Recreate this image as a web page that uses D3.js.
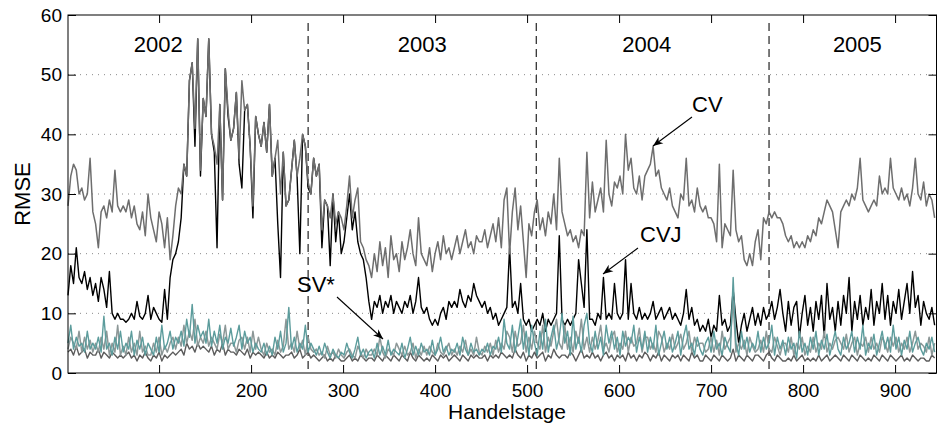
<!DOCTYPE html>
<html>
<head>
<meta charset="utf-8">
<script src="https://cdn.jsdelivr.net/npm/d3@7"></script>
<style>
  body { margin: 0; background: #fff; }
  text { font-family: "Liberation Sans", Arial, sans-serif; }
</style>
</head>
<body>
<svg id="chart" width="937" height="425"></svg>
<script>
"use strict";

// every third trading day, starting at day 1
var dayStep = 3;

var yearBreaks = [262, 510, 763];
var yearLabels = [ { t: "2002", d: 99 }, { t: "2003", d: 386 }, { t: "2004", d: 630 }, { t: "2005", d: 859 } ];
var xTicks = [100, 200, 300, 400, 500, 600, 700, 800, 900];
var yTicks = [0, 10, 20, 30, 40, 50, 60];

// CV (grey)
var cv = [
  28,33,35,34,30,31,29,30,36,27,
  25,21,27,28,26,29,27,34,28,27,
  28,27,29,26,28,25,24,27,23,30,
  26,24,22,27,25,21,26,19,23,28,
  31,30,35,33,49,52,41,56,34,46,
  43,56,40,38,35,45,29,51,44,39,
  41,47,36,49,44,45,38,28,43,40,
  38,42,37,45,33,36,39,30,37,28,
  29,34,39,33,36,40,38,32,30,36,
  33,35,24,29,28,26,30,25,27,26,
  24,28,33,26,29,31,22,21,19,18,
  16,20,17,22,18,21,16,23,19,20,
  17,22,19,21,24,20,18,26,20,19,
  18,21,17,20,22,19,23,20,21,19,
  21,23,20,22,24,21,22,20,23,22,
  22,24,21,23,25,22,26,21,29,31,
  20,27,31,24,28,22,16,25,23,27,
  29,24,26,23,27,25,30,24,36,27,
  25,23,24,22,23,21,24,23,37,26,
  32,27,29,31,27,39,30,28,32,31,
  33,30,40,34,36,31,30,33,29,33,
  34,35,38,33,34,31,30,29,31,28,
  27,26,30,29,36,28,29,27,31,28,
  27,28,26,26,25,22,35,21,25,24,
  23,34,24,22,23,19,18,20,18,22,
  24,19,26,25,27,26,27,26,26,25,
  23,22,23,21,22,21,22,21,23,22,
  24,23,26,25,27,29,28,27,24,21,
  27,28,29,28,30,29,31,36,29,28,
  27,28,29,28,33,30,31,30,36,31,
  30,29,31,29,30,28,31,36,30,29,
  32,28,30,29,26
];

// CVJ (black)
var cvj = [
  13,18,15,21,16,15,17,14,16,13,
  15,12,16,14,11,17,10,9,10,9,
  9,8.5,9,10,9,12,9.5,9,10,13,
  9,11,10,9,8.5,14,9,16,19,20,
  22,26,35,33,49,52,38,56,33,46,
  43,56,40,37,21,45,29,51,43,39,
  41,47,35,31,44,45,38,26,43,40,
  38,42,37,45,33,36,25,16,37,28,
  29,34,39,33,20,40,38,31,30,36,
  33,35,21,29,28,18,30,22,27,20,
  22,26,30,24,27,22,20,19,16,12,
  9,12,11,13,10,12,11,13,10,12,
  11,10,12,11,13,10,12,16,11,10,
  11,9,8,9,8,10,11,9,12,11,
  12,11,14,12,11,13,12,15,13,12,
  11,12,10,11,9,10,8,9,10,11,
  21,11,12,10,15,9,8,9,7,8,
  9,8,10,7,9,8,9,10,23,9,
  8,9,8,9,10,19,15,11,24,9,
  9,8,10,9,16,9,10,9,15,10,
  9,10,19,9,15,10,9,11,9,10,
  9,10,12,9,10,11,9,10,11,9,
  10,9,8,10,14,9,11,8,9,7,
  8,7,9,6,8,7,13,8,9,7,
  8,14,9,5,8,10,7,9,11,8,
  10,8,11,9,10,12,9,11,14,10,
  7,12,8,11,12,6,10,13,8,11,
  7,12,9,13,6,15,9,11,7,12,
  8,13,10,16,7,12,9,13,8,11,
  9,14,8,12,10,15,9,13,8,12,
  10,14,9,12,15,10,17,11,13,8,
  12,10,9,11,8
];

// SV* models (three runs drawn as a band)
var sv1 = [
  5,8,4,6,4.5,5,3.5,7,4,5,
  4,6,3.5,9.5,4,5,3,6,4,7,
  3.5,5,4,7,3,5.5,4,6,3,5,
  4,3,6,3.5,8,4,5,7,4,6,
  5,7,4.5,9,6,11.5,5,8,6,7,
  5,9,4.5,7,5,8,4,6,5,7.5,
  4.5,6,8,4,7,5,6,3.5,5,4,
  3.5,5,3,4.5,3,6,4,7,3.5,5,
  11,4,6,3.5,5,4,8,3.5,5,4,
  3,4.5,3,5,3.5,2.5,4,3,2.5,3.5,
  3,5,3.5,2.5,4,6,3,4,2.5,3.5,
  4,2.5,5,3,4.5,3,5.5,3,4,3.5,
  3,5,2.5,4,6,3,4.5,3,5,3.5,
  4,3,5.5,3,4,6,3.5,4.5,3,4,
  3.5,5,3,6,4,3,5,3.5,4,3,
  4,3.5,5,3,4.5,4,6,3.5,9,5,
  4,8,3.5,6,9,4,7,3,8,5,
  3,7,4,9,3.5,6,8,4,6,10,
  5,7,3,9.5,4,6,3.5,8,10,5,
  3.5,7,4,6,3,8,5,7,4,6,
  3,7,4.5,6,5,8,3.5,6,4,7,
  3.5,6,4,8,3,5,7,4,6,3.5,
  5,7,3,6,8,4,5,3,6,4,
  3,5,6,3.5,7,4,5,3,6,4.5,
  3.5,16,5,3,7,4,6,3.5,5,4,
  7,3.5,6,4,5,8,3,6,4,5.5,
  3,6,4,5,2.5,7,3.5,5,3,6,
  4,7,3,5.5,4,6.5,3,5,7,4,
  3,6,4,5,7,3.5,6,4,8,3,
  5,4,6.5,3,5,7,4,6,3.5,8,
  4,6,3,5.5,4,7,3.5,5,6,4,
  3,5,4,6,3.5
];

var sv2 = [
  4,6,5,4,7,3.5,6,4,5.5,3.5,
  5,3.5,6,4,7,3,5,3.5,8,3,
  4.5,3,6,3.5,5,3,7,3.5,4.5,3,
  3,5,3.5,6,3,4.5,3.5,5,6,4,
  6,4.5,8,5,7,5.5,9,4.5,6,5,
  7,4.5,6,5,4,6.5,5,8,4,5,
  5,3.5,5.5,6,4,6,3.5,7,4,6,
  4,3,5,3.5,4,3,5.5,3.5,4.5,9,
  4,5,3.5,7,4,5.5,3,6,4,3.5,
  4,3,3.5,2.5,4.5,3,3.5,2.5,4,3,
  2.5,3.5,4,3,2.5,4.5,3.5,2.5,4,3,
  3,4,3,6,3.5,2.5,4,3.5,3,5,
  4,3,4.5,3,3.5,5,2.5,4,3,4.5,
  3,4.5,3.5,3,5,3.5,3,4,5,3,
  4,3,4.5,3.5,5.5,3,4,3,6,3.5,
  3,4.5,3.5,5,3,5.5,3.5,5,4,7,
  6,3.5,7,4.5,5,8,3.5,6,4,7,
  5,4,8,3.5,6,4.5,7,9,5,4,
  8,4,6,3.5,7,5,9,4,6,3.5,
  6,4,5.5,8,4,5,3.5,6,7,3.5,
  5,4,7,3.5,6,4.5,5,7.5,3.5,6,
  6,4,5,3.5,7,6,3.5,5,4,6.5,
  4,5,6.5,4,5,7,3.5,6,4.5,5,
  5,3.5,4,6,3.5,5.5,3,7,4,5,
  6,12,3.5,5,4,5.5,3,6,4.5,3.5,
  4,5.5,3.5,7,4,3.5,6,4.5,3,5,
  5,3.5,6,3,5,4,6,3,4.5,3.5,
  6,3.5,5,4,7,3.5,5,4,5.5,6,
  5,4,6.5,3.5,5,6,3,5,4.5,6,
  3.5,6,4,5,3.5,6,5,3.5,6,4.5,
  6,3.5,5,4,6,3.5,5,7,4,5,
  4.5,3.5,6,3,5
];

var sv3 = [
  3.5,4,3,4.5,3,3.5,4,2.5,3.5,3,
  3,4,2.5,3.5,3,2.5,3.5,3,2.5,3,
  2.5,3,3.5,2.5,3,2,3,2.5,3.5,2.5,
  2,3,2.5,3.5,2,3,2.5,3,3.5,3,
  3.5,4,3,5,4,4.5,3.5,5,4,4.5,
  4,3.5,4.5,3,4,3.5,5,3,4,3.5,
  3.5,3,4,3.5,3,4,2.5,3.5,3,3.5,
  3,2.5,3.5,2.5,3,2.5,3.5,3,2.5,3,
  3,3.5,2.5,3,4,2.5,3,3.5,2.5,3,
  2.5,2,2.5,3,2,2.5,2,3,2.5,2,
  2,2.5,3,2,2.5,2,3,2.5,2,2.5,
  2.5,2,3,2.5,2,3,2.5,2,3,2.5,
  2,3,2.5,2,3.5,2.5,2,3,2.5,2,
  2.5,2,3,2.5,2,3,2.5,3,2,2.5,
  3,2.5,2,3,2.5,2,3,2.5,3,2.5,
  2.5,3,2,3,2.5,3,2.5,3.5,3,2.5,
  3,2.5,4,3,2.5,3.5,2,3,2.5,3.5,
  2.5,3,3.5,2,3,2.5,4,3,2.5,3,
  3,2.5,3.5,3,2,3,4,2.5,3,2.5,
  3.5,2.5,3,2,3,3.5,2.5,3,2,3,
  2.5,3,2,3.5,2.5,3,2,3,2.5,3.5,
  3,2,3,2.5,3.5,2,3,2.5,2,3,
  2.5,3,2,3,2.5,2,3.5,2.5,3,2,
  2,3,2.5,2,3,2.5,2,3,2.5,2,
  2.5,4,2,3,2.5,2,3,2.5,2,3,
  3,2.5,2,3,3.5,2.5,2,3,2.5,2,
  2,2.5,2,3,2,2.5,3,2,2.5,2,
  2.5,2,3,2,2.5,3,2,2.5,3,2.5,
  2,3,2.5,2,3,2.5,2,3,2.5,2,
  2.5,2,3,2.5,2,3,2.5,2,3,2.5,
  2,2.5,3,2,2.5,2,3,2.5,2,2.5,
  2.5,2,2,3,2.5
];

var series = [
  { name: "CVJ", values: cvj, color: "#000000", width: 1.4 },
  { name: "CV",  values: cv,  color: "#6e6e6e", width: 1.5 },
  { name: "SV3", values: sv3, color: "#5c5c5c", width: 1.4 },
  { name: "SV2", values: sv2, color: "#8c9797", width: 1.5 },
  { name: "SV1", values: sv1, color: "#5c9c9c", width: 1.4 }
];

var svg = d3.select("#chart");
var plotLeft = 68, plotRight = 936.5, plotTop = 15, plotBottom = 373;

var x = d3.scaleLinear().domain([1, 946]).range([plotLeft, 937.4]);
var y = d3.scaleLinear().domain([0, 60]).range([plotBottom, plotTop]);

// horizontal dotted grid
svg.append("g").selectAll("line")
  .data(yTicks.filter(function(d) { return d > 0 && d < 60 }))
  .enter().append("line")
    .attr("x1", plotLeft).attr("x2", plotRight)
    .attr("y1", function(d) { return y(d) }).attr("y2", function(d) { return y(d) })
    .style("stroke", "#8a8a8a").style("stroke-width", 1)
    .style("stroke-dasharray", "1,5");

// year separators
svg.append("g").selectAll("line")
  .data(yearBreaks)
  .enter().append("line")
    .attr("x1", function(d) { return x(d) }).attr("x2", function(d) { return x(d) })
    .attr("y1", 23).attr("y2", plotBottom)
    .style("stroke", "#222").style("stroke-width", 1.2)
    .style("stroke-dasharray", "8,5");

// data lines
var line = d3.line()
  .x(function(d, i) { return x(1 + i * dayStep) })
  .y(function(d) { return y(d) });

svg.append("g").selectAll("path")
  .data(series)
  .enter().append("path")
    .attr("d", function(s) { return line(s.values) })
    .style("fill", "none")
    .style("stroke", function(s) { return s.color })
    .style("stroke-width", function(s) { return s.width })
    .style("stroke-linejoin", "round");

// axes box with inward ticks
var tickLen = 8;
var axBottom = d3.axisBottom(x).tickValues(xTicks).tickSizeInner(-tickLen).tickSizeOuter(0).tickPadding(11);
var axTop = d3.axisTop(x).tickValues(xTicks).tickSizeInner(-tickLen).tickSizeOuter(0).tickFormat("");
var axLeft = d3.axisLeft(y).tickValues(yTicks).tickSizeInner(-tickLen).tickSizeOuter(0).tickPadding(6);
var axRight = d3.axisRight(y).tickValues(yTicks).tickSizeInner(-tickLen).tickSizeOuter(0).tickFormat("");

function dressAxis(g) {
  g.select(".domain").remove();
  g.selectAll("line").style("stroke", "#000");
  g.selectAll("text").style("font-family", "'Liberation Sans', Arial, sans-serif")
    .style("font-size", "19px").style("fill", "#000");
}

svg.append("g").attr("transform", "translate(0," + plotBottom + ")").call(axBottom).call(dressAxis);
svg.append("g").attr("transform", "translate(0," + plotTop + ")").call(axTop).call(dressAxis);
svg.append("g").attr("transform", "translate(" + plotLeft + ",0)").call(axLeft).call(dressAxis);
svg.append("g").attr("transform", "translate(" + plotRight + ",0)").call(axRight).call(dressAxis);

svg.append("rect")
  .attr("x", plotLeft).attr("y", plotTop)
  .attr("width", plotRight - plotLeft).attr("height", plotBottom - plotTop)
  .style("fill", "none").style("stroke", "#000").style("stroke-width", 1);

// year labels
svg.append("g").selectAll("text")
  .data(yearLabels)
  .enter().append("text")
    .attr("x", function(d) { return x(d.d) })
    .attr("y", 52)
    .attr("text-anchor", "middle")
    .style("font-size", "22px")
    .text(function(d) { return d.t });

// axis titles
svg.append("text")
  .attr("x", 507).attr("y", 419)
  .attr("text-anchor", "middle")
  .style("font-size", "21px")
  .text("Handelstage");

svg.append("text")
  .attr("transform", "translate(30,194) rotate(-90)")
  .attr("text-anchor", "middle")
  .style("font-size", "22px")
  .text("RMSE");

// annotations
svg.append("defs").append("marker")
  .attr("id", "arrow")
  .attr("viewBox", "0 0 10 10")
  .attr("refX", 10).attr("refY", 5)
  .attr("markerWidth", 10).attr("markerHeight", 10)
  .attr("markerUnits", "userSpaceOnUse")
  .attr("orient", "auto")
  .append("path")
    .attr("d", "M0,1 L10,5 L0,9 L3,5 Z")
    .style("fill", "#000");

var notes = [
  { t: "CV",  tx: 692, ty: 112, x1: 692, y1: 117, x2: 653, y2: 146 },
  { t: "CVJ", tx: 640, ty: 242, x1: 638, y1: 248, x2: 603, y2: 274 },
  { t: "SV*", tx: 297, ty: 292, x1: 337, y1: 297, x2: 383, y2: 339 }
];

svg.append("g").selectAll("line")
  .data(notes)
  .enter().append("line")
    .attr("x1", function(d) { return d.x1 }).attr("y1", function(d) { return d.y1 })
    .attr("x2", function(d) { return d.x2 }).attr("y2", function(d) { return d.y2 })
    .style("stroke", "#000").style("stroke-width", 1.1)
    .attr("marker-end", "url(#arrow)");

svg.append("g").selectAll("text")
  .data(notes)
  .enter().append("text")
    .attr("x", function(d) { return d.tx }).attr("y", function(d) { return d.ty })
    .style("font-size", "22px")
    .text(function(d) { return d.t });
</script>
</body>
</html>
